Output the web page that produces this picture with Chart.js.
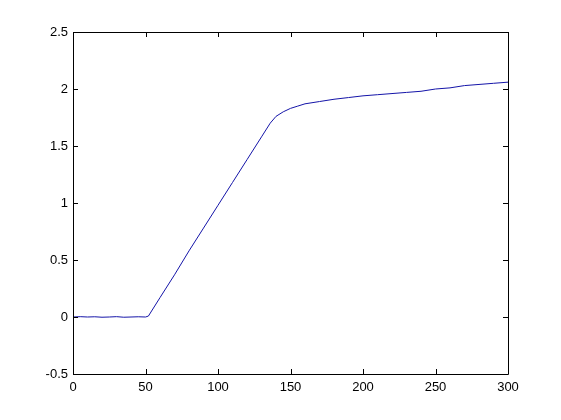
<!DOCTYPE html>
<html>
<head>
<meta charset="utf-8">
<script src="https://cdn.jsdelivr.net/npm/chart.js@4"></script>
<style>
  html, body { margin:0; padding:0; background:#fff; }
  #wrap { width:561px; height:420px; }
</style>
</head>
<body>
<div id="wrap"><canvas id="c" width="561" height="420"></canvas></div>
<script>
// ── Data ──────────────────────────────────────────────────────
const xVals = [0, 5, 10, 15, 20, 25, 30, 35, 40, 45, 50, 52,
               60, 70, 80, 90, 100, 110, 120, 130, 136, 140, 145, 150, 155, 160,
               170, 180, 190, 200, 210, 220, 230, 240, 250, 260, 270, 280, 290, 300];
const yVals = [0.00, 0.003, 0.00, 0.002, -0.002, 0.00, 0.003, -0.002, 0.00, 0.002, 0.00, 0.008,
               0.17, 0.37, 0.58, 0.78, 0.98, 1.18, 1.38, 1.58, 1.70, 1.76, 1.80, 1.83, 1.85, 1.87,
               1.89, 1.91, 1.925, 1.94, 1.95, 1.96, 1.97, 1.98, 2.00, 2.01, 2.03, 2.04, 2.05, 2.06];
const xTicks = [0, 50, 100, 150, 200, 250, 300];
const yTicks = [-0.5, 0, 0.5, 1, 1.5, 2, 2.5];

// ── MATLAB-style box with inward ticks on all four sides ─────
const boxPlugin = {
  id: 'box',
  afterDraw(chart) {
    const { ctx, chartArea: a, scales } = chart;
    const len = 5;
    ctx.save();
    ctx.strokeStyle = '#000';
    ctx.lineWidth = 1;
    ctx.beginPath();
    ctx.rect(a.left + 0.5, a.top + 0.5, a.right - a.left, a.bottom - a.top);
    xTicks.forEach(v => {
      const px = Math.round(scales.x.getPixelForValue(v)) + 0.5;
      ctx.moveTo(px, a.bottom); ctx.lineTo(px, a.bottom - len);
      ctx.moveTo(px, a.top);    ctx.lineTo(px, a.top + len);
    });
    yTicks.forEach(v => {
      const py = Math.round(scales.y.getPixelForValue(v)) + 0.5;
      ctx.moveTo(a.left, py);  ctx.lineTo(a.left + len, py);
      ctx.moveTo(a.right, py); ctx.lineTo(a.right - len, py);
    });
    ctx.stroke();
    ctx.restore();
  }
};

const tickFont = { family:'Liberation Sans', size:13 };

new Chart(document.getElementById('c'), {
  type:'line',
  data:{
    datasets:[{
      data: xVals.map((x, i) => ({ x, y: yVals[i] })),
      borderColor:'#1414a8', borderWidth:1, pointRadius:0, tension:0, fill:false
    }]
  },
  options:{
    responsive:false, animation:false,
    layout:{ padding:{ left:0, right:53, top:32, bottom:0 } },
    plugins:{ legend:{display:false}, tooltip:{enabled:false} },
    scales:{
      x:{
        type:'linear', min:0, max:300,
        afterBuildTicks: s => { s.ticks = xTicks.map(v => ({ value:v })); },
        afterFit: s => { s.height = 46; },
        grid:{ display:false, drawTicks:false },
        border:{ display:false },
        ticks:{ color:'#000', font:tickFont, padding:6, maxRotation:0, callback: v => String(v) }
      },
      y:{
        type:'linear', min:-0.5, max:2.5,
        afterBuildTicks: s => { s.ticks = yTicks.map(v => ({ value:v })); },
        afterFit: s => { s.width = 73; },
        grid:{ display:false, drawTicks:false },
        border:{ display:false },
        ticks:{ color:'#000', font:tickFont, padding:5, callback: v => String(v) }
      }
    }
  },
  plugins:[boxPlugin]
});
</script>
</body>
</html>
